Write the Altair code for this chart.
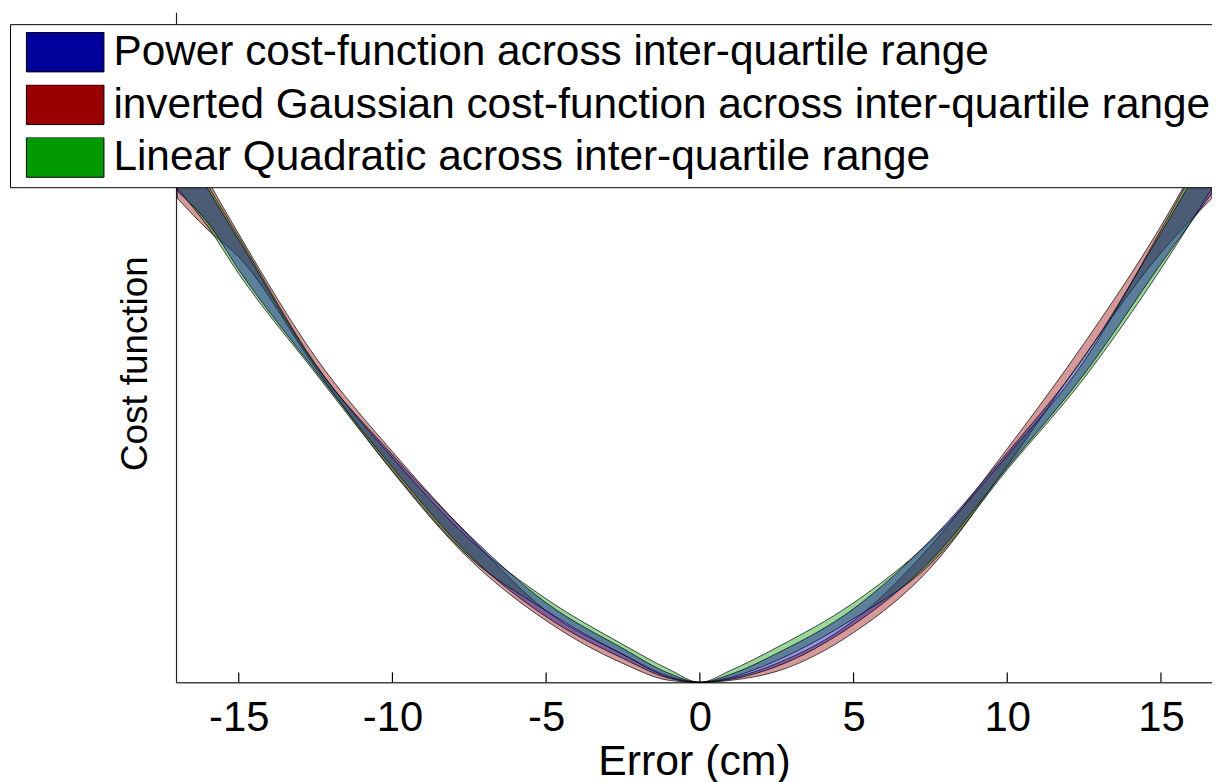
import altair as alt
import pandas as pd

# ---- data (cost in pixel-like units, 0 at the x-axis) ----
err = [-17, -16, -15, -12.5, -10, -7.5, -5, -2.5, -1, 0, 1, 2.5, 5, 7.5, 10, 12.5, 15, 16.66]

power_lo = [494, 462, 415, 313, 216, 128, 66, 24, 4, 0, 3, 16, 58, 122, 216, 310, 421, 492]
power_hi = [550, 496, 445, 319, 229, 148, 80, 34, 9, 0, 8, 29, 74, 143, 231, 327, 452, 540]

gauss_lo = [487, 455, 428, 316, 212, 124, 62, 19, 2, 0, 2, 11, 50, 115, 218, 328, 432, 487]
gauss_hi = [565, 505, 451, 327, 232, 147, 72, 28, 5, 0, 4, 19, 62, 137, 235, 341, 459, 550]

linq_lo = [497, 458, 411, 311, 213, 126, 72, 28, 6, 0, 5, 22, 64, 119, 214, 306, 416, 497]
linq_hi = [556, 500, 448, 320, 226, 144, 84, 38, 13, 0, 12, 35, 80, 142, 228, 323, 455, 548]

series_names = [
    "Power cost-function across inter-quartile range",
    "inverted Gaussian cost-function across inter-quartile range",
    "Linear Quadratic across inter-quartile range",
]
series_colors = ["#00009B", "#990000", "#009900"]
x_ticks = [-15, -10, -5, 0, 5, 10, 15]

rows = []
for name, lo, hi in zip(series_names, [power_lo, gauss_lo, linq_lo], [power_hi, gauss_hi, linq_hi]):
    for e, a, b in zip(err, lo, hi):
        rows.append({"err": e, "lo": a, "hi": b, "series": name})
df = pd.DataFrame(rows)
ticks_df = pd.DataFrame({"err": x_ticks})

W, H = 1042, 674
FONT = "Liberation Sans"
XDOM = [-17.04, 16.66]

color = alt.Color(
    "series:N",
    scale=alt.Scale(domain=series_names, range=series_colors),
    legend=alt.Legend(
        title=None,
        orient="none",
        legendX=-167,
        legendY=12,
        direction="vertical",
        fillColor="white",
        strokeColor="black",
        padding=8,
        labelFont=FONT,
        labelFontSize=42.6,
        labelColor="black",
        labelLimit=2000,
        labelOffset=9,
        symbolType="M-1,-0.513H1V0.513H-1Z",
        symbolSize=6084,
        symbolStrokeColor="black",
        symbolStrokeWidth=1,
        symbolOpacity=1,
        symbolOffset=8,
        clipHeight=40,
        rowPadding=10,
    ),
)

x_enc = alt.X(
    "err:Q",
    scale=alt.Scale(domain=XDOM, nice=False, zero=False),
    axis=alt.Axis(
        values=x_ticks,
        labelExpr="'' + datum.value",
        title="Error (cm)",
        titleFont=FONT,
        titleFontSize=43,
        titleFontWeight="normal",
        titleColor="black",
        titlePadding=3,
        labelFont=FONT,
        labelFontSize=42,
        labelColor="black",
        labelPadding=15,
        ticks=False,
        domainColor="#444444",
        domainWidth=1.5,
        grid=False,
        labelFlush=False,
    ),
)

y_enc = alt.Y(
    "lo:Q",
    scale=alt.Scale(domain=[0, H], nice=False, zero=False),
    axis=alt.Axis(
        title="Cost function",
        titleFont=FONT,
        titleFontSize=37,
        titleFontWeight="normal",
        titleColor="black",
        titlePadding=22,
        titleY=353,
        labels=False,
        ticks=False,
        grid=False,
        domainColor="#222222",
        domainWidth=1.2,
    ),
)


def band(name):
    return (
        alt.Chart(df)
        .transform_filter(alt.datum.series == name)
        .mark_area(stroke="black", strokeWidth=0.7, fillOpacity=0.4, interpolate="monotone")
        .encode(x=x_enc, y=y_enc, y2="hi:Q", color=color)
    )


# inward tick marks on the x axis (MATLAB style)
tick_marks = (
    alt.Chart(ticks_df)
    .mark_rule(color="black", strokeWidth=1.2)
    .encode(x=x_enc, y=alt.value(H), y2=alt.value(H - 10))
)

# draw order: red, green, blue (blue on top)
chart = (
    alt.layer(band(series_names[1]), band(series_names[2]), band(series_names[0]), tick_marks)
    .properties(
        width=W,
        height=H,
        autosize=alt.AutoSizeParams(type="none"),
        padding={"left": 169, "top": 2, "right": 0, "bottom": 100},
        background="white",
    )
    .configure_view(stroke=None)
)

chart.save("out.html", embed_options={"renderer": "svg", "actions": False})
